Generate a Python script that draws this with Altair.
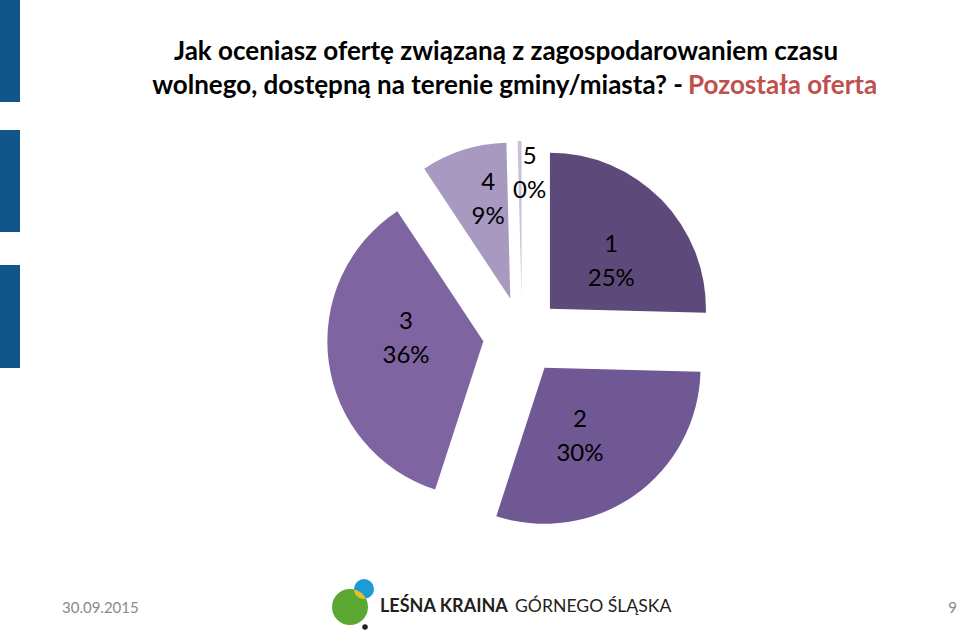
import altair as alt
import pandas as pd

# ---- data ----
categories = ["1", "2", "3", "4", "5"]
shares = [25.4, 29.6, 35.7, 8.9, 0.4]
slice_colors = ["#5d4a7b", "#705895", "#7e64a0", "#a899c0", "#c8c2d9"]

title_line1 = "Jak oceniasz ofertę związaną z zagospodarowaniem czasu"
title_line2a = "wolnego, dostępną na terenie gminy/miasta? - "
title_line2b = "Pozostała oferta"
footer_date = "30.09.2015"
page_no = "9"
logo_bold = "LEŚNA KRAINA"
logo_regular = "GÓRNEGO ŚLĄSKA"

pie_df = pd.DataFrame({"cat": categories, "share": shares})
one = pd.DataFrame({"k": [0]})

CX, CY, R, EXPLODE = 522, 336, 156, 39
LINE_H = 34
FONT = "Lato"

base = (
    alt.Chart(pie_df)
    .transform_joinaggregate(total="sum(share)")
    .transform_window(cum="sum(share)", sort=[alt.SortField("cat")])
    .transform_calculate(
        t2="2*PI*datum.cum/datum.total",
        t1="2*PI*(datum.cum-datum.share)/datum.total",
    )
    .transform_calculate(mid="(datum.t1+datum.t2)/2")
    .transform_calculate(
        cx=f"{CX}+{EXPLODE}*sin(datum.mid)",
        cy=f"{CY}-{EXPLODE}*cos(datum.mid)",
        lr="datum.share < 1 ? 162 : (datum.share < 15 ? 140 : 116)",
        la="datum.share < 15 ? datum.mid + 0.06 : datum.t1 + 0.55*(datum.t2 - datum.t1)",
        label="datum.cat + '\\n' + format(datum.share, '.0f') + '%'",
    )
    .transform_calculate(
        lx=f"{CX}+datum.lr*sin(datum.la)",
        ly=f"{CY}-datum.lr*cos(datum.la) - {LINE_H / 2}",
    )
)

arcs = base.mark_arc(outerRadius=R, stroke=None).encode(
    x=alt.X("cx:Q", scale=None, axis=None),
    y=alt.Y("cy:Q", scale=None, axis=None),
    theta=alt.Theta("t1:Q", scale=None),
    theta2="t2:Q",
    color=alt.Color("cat:N", scale=alt.Scale(domain=categories, range=slice_colors), legend=None),
)

labels = base.mark_text(
    font=FONT, fontSize=24, color="#000000", lineBreak="\n", lineHeight=LINE_H,
    align="center", baseline="middle",
).encode(
    x=alt.X("lx:Q", scale=None, axis=None),
    y=alt.Y("ly:Q", scale=None, axis=None),
    text="label:N",
)

def bar(y0, y1):
    return alt.Chart(one).mark_rect(color="#11568a").encode(
        x=alt.value(0), x2=alt.value(20), y=alt.value(y0), y2=alt.value(y1)
    )

bars = [bar(0, 102), bar(130, 232), bar(265, 368)]

def txt(text, x, y, size, color="#000000", weight="normal", align="center"):
    return alt.Chart(one).mark_text(
        text=text, font=FONT, fontSize=size, color=color, fontWeight=weight,
        align=align, baseline="middle",
    ).encode(x=alt.value(x), y=alt.value(y))

t1 = txt(title_line1, 506, 52, 26, weight="bold")
t2a = txt(title_line2a, 683, 86, 26, weight="bold", align="right")
t2b = txt(title_line2b, 688, 86, 26, color="#c0504d", weight="bold", align="left")

date_t = txt(footer_date, 62, 608, 15, color="#8a8a8a", align="left")
page_t = txt(page_no, 957, 608, 15, color="#8a8a8a", align="right")

logo_b = txt(logo_bold, 380, 607, 18, color="#231f20", weight="bold", align="left")
logo_r = txt(logo_regular, 515, 607, 17.6, color="#231f20", align="left")

def dot(x, y, size, color, shape="circle"):
    return alt.Chart(one).mark_point(
        filled=True, opacity=1, shape=shape, size=size, color=color, strokeWidth=0
    ).encode(x=alt.value(x), y=alt.value(y))

green = dot(350, 607, 1296, "#5aa832")
blue = dot(364, 589, 400, "#1e9ad6")
lens = dot(360, 594.1, 4, "#e9c31d",
           shape="M 6 4.67 A 18 18 0 0 0 -6 -4.67 A 10 10 0 0 0 6 4.67 Z")
blackdot = dot(365, 627, 30, "#231f20")

chart = alt.layer(
    *bars, t1, t2a, t2b, arcs, labels, date_t, page_t,
    green, blue, lens, blackdot, logo_b, logo_r,
).properties(
    width=960, height=634, padding=0,
    autosize=alt.AutoSizeParams(type="none"),
    background="white",
).configure_view(stroke=None)

chart.save("out.html", embed_options={"renderer": "svg", "actions": False})
